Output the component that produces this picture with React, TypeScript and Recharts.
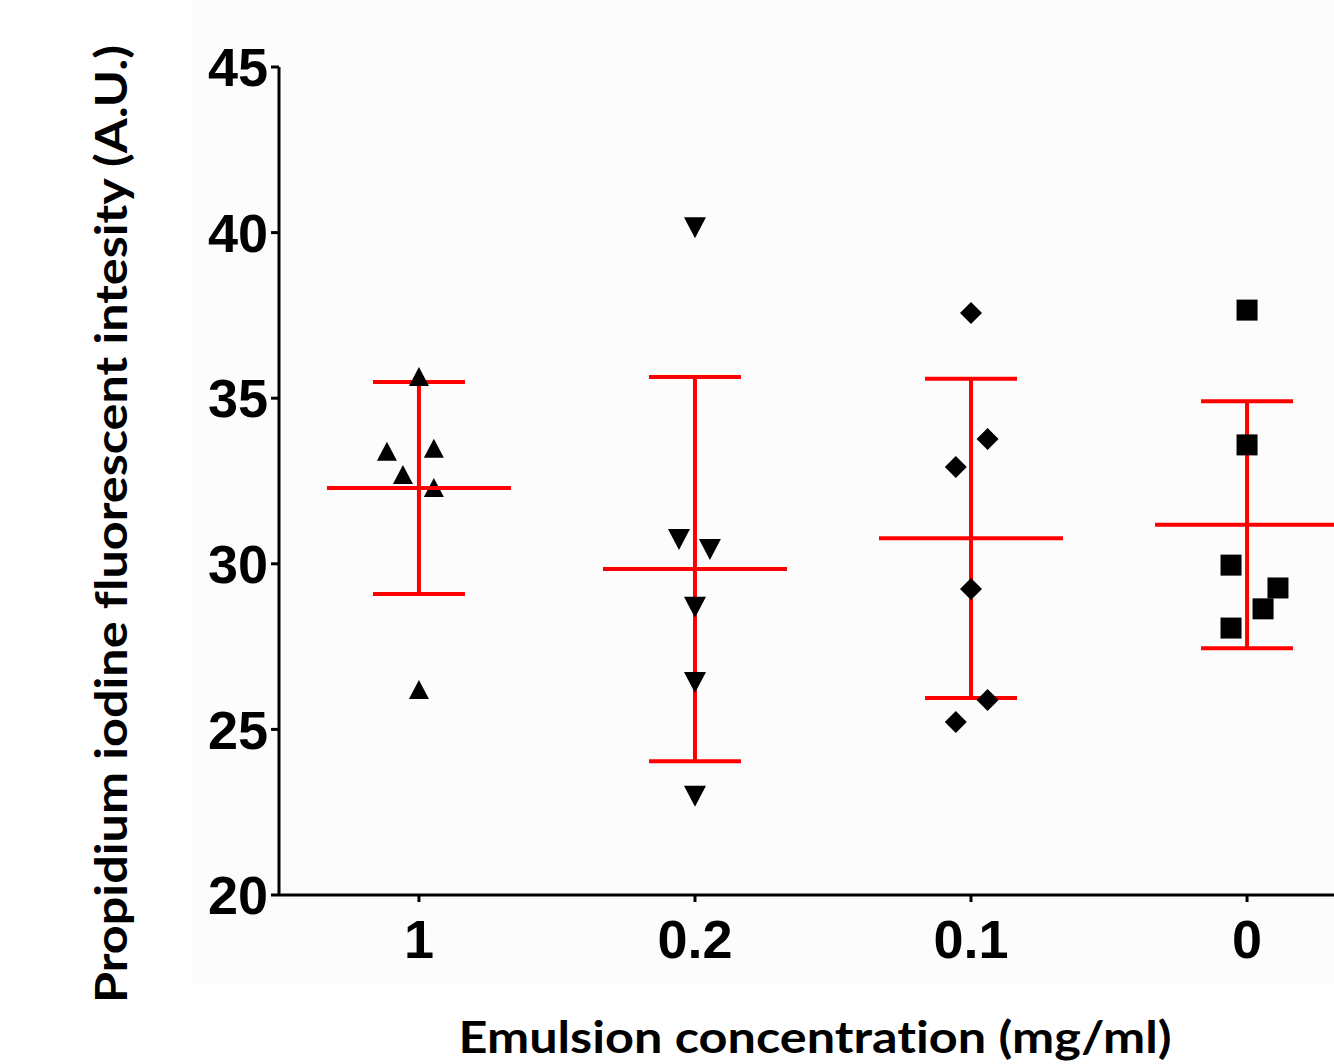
import { ComposedChart, ErrorBar, Scatter, XAxis, YAxis } from 'recharts'

const categories = ['1', '0.2', '0.1', '0']
const yTicks = [20, 25, 30, 35, 40, 45]

// individual measurements per concentration, with the horizontal jitter seen in the plot
const conc1 = [35.64, 33.38, 33.47, 32.68, 32.29, 26.19]
const conc1Jitter = [0, -0.116, 0.054, -0.058, 0.054, 0]
const conc02 = [40.16, 30.75, 30.45, 28.7, 26.43, 23.0]
const conc02Jitter = [0, -0.058, 0.054, 0, 0, 0]
const conc01 = [37.57, 33.77, 32.92, 29.24, 25.89, 25.22]
const conc01Jitter = [0, 0.06, -0.055, 0, 0.06, -0.055]
const conc0 = [37.66, 33.59, 29.96, 29.27, 28.64, 28.06]
const conc0Jitter = [0, 0, -0.058, 0.112, 0.058, -0.058]

const means = [32.29, 29.84, 30.77, 31.18]
const sds = [3.2, 5.8, 4.82, 3.73]

const RED = '#ff0000'

const toPoints = (vals: number[], jitter: number[], idx: number) =>
  vals.map((v, i) => ({ x: idx + jitter[i], y: v }))

const summary = means.map((m, i) => ({ x: i, y: m, sd: sds[i] }))

const TriUp = ({ cx, cy }: any) => (
  <polygon points={`${cx},${cy - 10} ${cx + 10},${cy + 9} ${cx - 10},${cy + 9}`} fill="#000" />
)
const TriDown = ({ cx, cy }: any) => (
  <polygon points={`${cx - 11},${cy - 10} ${cx + 11},${cy - 10} ${cx},${cy + 11}`} fill="#000" />
)
const Diamond = ({ cx, cy }: any) => (
  <polygon points={`${cx},${cy - 11} ${cx + 11},${cy} ${cx},${cy + 11} ${cx - 11},${cy}`} fill="#000" />
)
const Square = ({ cx, cy }: any) => (
  <rect x={cx - 10.5} y={cy - 10.5} width={21} height={21} fill="#000" />
)
const MeanLine = ({ cx, cy }: any) => (
  <line x1={cx - 92} x2={cx + 92} y1={cy} y2={cy} stroke={RED} strokeWidth={4} />
)

const titleFont = {
  fontFamily: 'Lato, "Open Sans", sans-serif',
  fontWeight: 700,
  fill: '#000',
  fontVariantLigatures: 'none' as const,
}

const XTitle = () => (
  <text
    x={815}
    y={1053}
    textAnchor="middle"
    textLength={713}
    lengthAdjust="spacingAndGlyphs"
    style={{ ...titleFont, fontSize: 43 }}
  >
    Emulsion concentration (mg/ml)
  </text>
)

const YTitle = () => (
  <text
    transform="translate(110,524) rotate(-90)"
    textAnchor="middle"
    dominantBaseline="central"
    textLength={958}
    lengthAdjust="spacingAndGlyphs"
    style={{ ...titleFont, fontSize: 43 }}
  >
    Propidium iodine fluorescent intesity (A.U.)
  </text>
)

const tickStyle = {
  fill: '#000',
  fontSize: 54,
  fontWeight: 700,
  fontFamily: '"Liberation Sans", Arial, sans-serif',
}

export default function App() {
  return (
    <div style={{ position: 'fixed', left: 0, top: 0, width: 1334, height: 1064, overflow: 'hidden', background: '#fff' }}>
      <div style={{ position: 'absolute', left: 193, top: 0, width: 1141, height: 985, background: '#fcfcfc' }} />
      <ComposedChart
        width={1334}
        height={1064}
        margin={{ top: 67, right: 0, bottom: 89, left: 179 }}
        style={{ position: 'absolute', left: 0, top: 0 }}
      >
        <XAxis
          type="number"
          dataKey="x"
          domain={[-0.507, 3.315]}
          allowDataOverflow
          ticks={[0, 1, 2, 3]}
          interval={0}
          tickFormatter={(i: number) => categories[i]}
          height={80}
          tickSize={7}
          tickMargin={18}
          tick={tickStyle}
          axisLine={{ stroke: '#000', strokeWidth: 3 }}
          tickLine={{ stroke: '#000', strokeWidth: 3 }}
          label={<XTitle />}
        />
        <YAxis
          type="number"
          dataKey="y"
          domain={[20, 45]}
          allowDataOverflow
          ticks={yTicks}
          interval={0}
          width={100}
          tickSize={8}
          tickMargin={3}
          tick={tickStyle}
          axisLine={{ stroke: '#000', strokeWidth: 3 }}
          tickLine={{ stroke: '#000', strokeWidth: 3 }}
          label={<YTitle />}
        />
        <Scatter data={toPoints(conc1, conc1Jitter, 0)} shape={TriUp} isAnimationActive={false} />
        <Scatter data={toPoints(conc02, conc02Jitter, 1)} shape={TriDown} isAnimationActive={false} />
        <Scatter data={toPoints(conc01, conc01Jitter, 2)} shape={Diamond} isAnimationActive={false} />
        <Scatter data={toPoints(conc0, conc0Jitter, 3)} shape={Square} isAnimationActive={false} />
        <Scatter data={summary} shape={MeanLine} isAnimationActive={false}>
          <ErrorBar dataKey="sd" direction="y" width={46} stroke={RED} strokeWidth={4} isAnimationActive={false} />
        </Scatter>
      </ComposedChart>
    </div>
  )
}
